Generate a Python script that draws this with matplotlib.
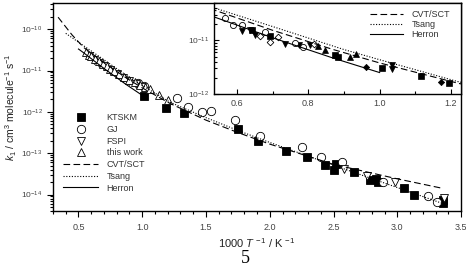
import numpy as np
import matplotlib
matplotlib.use("Agg")
import matplotlib.pyplot as plt
from matplotlib.ticker import FixedLocator, LogLocator, NullFormatter, MultipleLocator

plt.rcParams['font.family'] = ['Liberation Sans', 'DejaVu Sans']
plt.rcParams['mathtext.fontset'] = 'custom'
plt.rcParams['mathtext.rm'] = 'Liberation Sans'
plt.rcParams['mathtext.it'] = 'Liberation Sans:italic'

# ---------------- data (x = 1000/T, values = log10 k) ----------------
ktskm_x = [1.01, 1.19, 1.33, 1.75, 1.91, 2.13, 2.29, 2.43, 2.50, 2.52, 2.66, 2.79, 2.83, 2.85, 3.05, 3.13, 3.36, 3.36]
ktskm_log = [-11.62, -11.91, -12.03, -12.42, -12.71, -12.95, -13.10, -13.29, -13.41, -13.27, -13.46, -13.66, -13.63, -13.70, -13.85, -14.02, -14.21, -14.13]

gj_x = [0.97, 1.01, 1.27, 1.36, 1.47, 1.54, 1.73, 1.92, 2.25, 2.40, 2.57, 2.89, 3.24, 3.31]
gj_log = [-11.30, -11.38, -11.67, -11.89, -12.00, -11.98, -12.20, -12.59, -12.86, -13.10, -13.22, -13.70, -14.04, -14.19]

fspi_x = [0.58, 0.62, 0.66, 0.70, 0.75, 0.80, 0.85, 0.90, 0.95, 1.00, 2.58, 2.76, 2.98, 3.37]
fspi_log = [-10.66, -10.74, -10.82, -10.90, -10.99, -11.08, -11.17, -11.26, -11.33, -11.41, -13.37, -13.56, -13.70, -14.09]

this_x = [0.56, 0.58, 0.60, 0.63, 0.66, 0.69, 0.72, 0.75, 0.78, 0.82, 0.86, 0.90, 0.94, 0.98, 1.02, 1.06, 1.13, 1.20]
this_log = [-10.56, -10.62, -10.64, -10.72, -10.77, -10.84, -10.88, -10.96, -11.00, -11.08, -11.15, -11.22, -11.28, -11.34, -11.40, -11.45, -11.60, -11.72]

cvt_x = [0.34, 0.45, 0.54, 0.70, 0.87, 1.00, 1.22, 1.50, 1.75, 2.00, 2.50, 3.00, 3.34]
cvt_log = [-9.71, -10.14, -10.44, -10.81, -11.17, -11.42, -11.80, -12.20, -12.50, -12.78, -13.27, -13.62, -13.84]

tsang_x = [0.40, 0.54, 0.70, 0.90, 1.00, 1.22, 1.50, 1.75, 2.00, 2.50, 3.00, 3.35]
tsang_log = [-10.10, -10.40, -10.74, -11.17, -11.36, -11.77, -12.14, -12.45, -12.74, -13.29, -13.83, -14.21]

herron_x = [0.50, 0.54, 0.70, 0.87, 1.00]
herron_log = [-10.48, -10.57, -10.95, -11.33, -11.60]

# inset data
in_sq_x = [0.642, 0.692, 0.874, 0.883, 1.006, 1.117, 1.195]
in_sq_log = [-10.81, -10.91, -11.28, -11.31, -11.52, -11.67, -11.80]
in_dt_x = [0.614, 0.637, 0.650, 0.734, 0.773, 0.804, 1.036, 1.036]
in_dt_log = [-10.83, -10.80, -10.89, -11.07, -11.09, -11.09, -11.46, -11.54]
in_ut_x = [0.826, 0.846, 0.916, 0.933]
in_ut_log = [-11.11, -11.17, -11.30, -11.26]
in_di_x = [0.963, 1.173]
in_di_log = [-11.50, -11.78]
in_oc_x = [0.567, 0.589, 0.614, 0.678, 0.762, 0.785]
in_oc_log = [-10.59, -10.72, -10.72, -10.85, -11.04, -11.13]
in_od_x = [0.664, 0.692, 0.715, 0.815]
in_od_log = [-10.91, -11.02, -10.94, -11.06]

def k(v):
    return 10.0 ** np.asarray(v)

TC = '#444444'
fig = plt.figure(figsize=(4.66, 2.68), dpi=100)
ax = fig.add_axes([0.1137, 0.2127, 0.8756, 0.7761])

ms = 5.6
ax.plot(ktskm_x, k(ktskm_log), ls='none', marker='s', ms=ms, mfc='black', mec='black', mew=0.6, label='KTSKM')
ax.plot(gj_x, k(gj_log), ls='none', marker='o', ms=ms+0.4, mfc='white', mec='black', mew=0.6, label='GJ')
ax.plot(fspi_x, k(fspi_log), ls='none', marker='v', ms=ms+0.6, mfc='white', mec='black', mew=0.6, label='FSPI')
ax.plot(this_x, k(this_log), ls='none', marker='^', ms=ms+0.6, mfc='white', mec='black', mew=0.6, label='this work')
ax.plot(cvt_x, k(cvt_log), color='black', lw=0.8, ls=(0, (6, 3)), label='CVT/SCT')
ax.plot(tsang_x, k(tsang_log), color='black', lw=0.8, ls=(0, (1, 1.5)), label='Tsang')
ax.plot(herron_x, k(herron_log), color='black', lw=0.8, ls='-', label='Herron')

ax.set_yscale('log')
ax.set_xlim(0.3, 3.5)
ax.set_ylim(4e-15, 4.3e-10)
ax.xaxis.set_major_locator(FixedLocator([0.5, 1.0, 1.5, 2.0, 2.5, 3.0, 3.5]))
ax.xaxis.set_minor_locator(MultipleLocator(0.1))
ax.yaxis.set_major_locator(FixedLocator([1e-14, 1e-13, 1e-12, 1e-11, 1e-10]))
ax.yaxis.set_minor_locator(LogLocator(base=10, subs=np.arange(2, 10), numticks=20))
ax.yaxis.set_minor_formatter(NullFormatter())
ax.set_xticklabels(['0.5', '1.0', '1.5', '2.0', '2.5', '3.0', '3.5'])
ax.set_yticklabels([r'$10^{-14}$', r'$10^{-13}$', r'$10^{-12}$', r'$10^{-11}$', r'$10^{-10}$'])
ax.tick_params(which='both', direction='out', labelsize=6.5, labelcolor=TC, width=0.8)
ax.tick_params(which='major', length=4)
ax.tick_params(which='minor', length=2.5)
ax.tick_params(axis='y', labelsize=6)
ax.tick_params(axis='x', pad=5)
for s in ax.spines.values():
    s.set_linewidth(1.0)

ax.set_xlabel(r'1000 $T$ $^{-1}$ / K $^{-1}$', fontsize=8, color='#222222', labelpad=3)
ax.set_ylabel(r'$k_1$ / cm$^3$ molecule$^{-1}$ s$^{-1}$', fontsize=7.5, color='#222222', labelpad=2)

ax.legend(loc='upper left', bbox_to_anchor=(0.01, 0.50), frameon=False, fontsize=6.5,
          handlelength=3.8, handletextpad=1.0, labelspacing=0.3, borderpad=0.2,
          labelcolor='#333333')

# ---------------- inset ----------------
ins = fig.add_axes([0.4592, 0.6493, 0.5301, 0.3395])
ims = 3.8
ins.plot(in_sq_x, k(in_sq_log), ls='none', marker='s', ms=ims, mfc='black', mec='black', mew=0.5)
ins.plot(in_dt_x, k(in_dt_log), ls='none', marker='v', ms=ims, mfc='black', mec='black', mew=0.5)
ins.plot(in_ut_x, k(in_ut_log), ls='none', marker='^', ms=ims, mfc='black', mec='black', mew=0.5)
ins.plot(in_di_x, k(in_di_log), ls='none', marker='D', ms=ims-0.6, mfc='black', mec='black', mew=0.5)
ins.plot(in_oc_x, k(in_oc_log), ls='none', marker='o', ms=ims+0.6, mfc='white', mec='black', mew=0.6)
ins.plot(in_od_x, k(in_od_log), ls='none', marker='D', ms=ims-0.4, mfc='white', mec='black', mew=0.6)
ins.plot(cvt_x, k(cvt_log), color='black', lw=0.8, ls=(0, (6, 3)), label='CVT/SCT')
ins.plot(tsang_x, k(tsang_log), color='black', lw=0.8, ls=(0, (1, 1.5)), label='Tsang')
ins.plot(herron_x, k(herron_log), color='black', lw=0.8, ls='-', label='Herron')
ins.set_yscale('log')
ins.set_xlim(0.536, 1.228)
ins.set_ylim(1e-12, 5e-11)
ins.xaxis.set_major_locator(FixedLocator([0.6, 0.8, 1.0, 1.2]))
ins.xaxis.set_minor_locator(MultipleLocator(0.1))
ins.set_xticklabels(['0.6', '0.8', '1.0', '1.2'])
ins.yaxis.set_major_locator(FixedLocator([1e-12, 1e-11]))
ins.yaxis.set_minor_locator(LogLocator(base=10, subs=np.arange(2, 10), numticks=20))
ins.yaxis.set_minor_formatter(NullFormatter())
ins.set_yticklabels([r'$10^{-12}$', r'$10^{-11}$'])
ins.tick_params(which='both', direction='in', labelsize=6.5, labelcolor=TC, width=0.8)
ins.tick_params(which='major', length=3.5)
ins.tick_params(which='minor', length=2)
ins.tick_params(axis='y', labelsize=6)
for s in ins.spines.values():
    s.set_linewidth(1.0)
ins.legend(loc='upper right', bbox_to_anchor=(0.985, 1.0), frameon=False, fontsize=6.5,
           handlelength=3.6, handletextpad=1.0, labelspacing=0.1, borderpad=0.3,
           labelcolor='#333333')

fig.text(0.526, 0.005, '5', fontsize=13, family=['Liberation Serif', 'DejaVu Serif'], ha='center', va='bottom')

fig.savefig('out.png', dpi=100)
